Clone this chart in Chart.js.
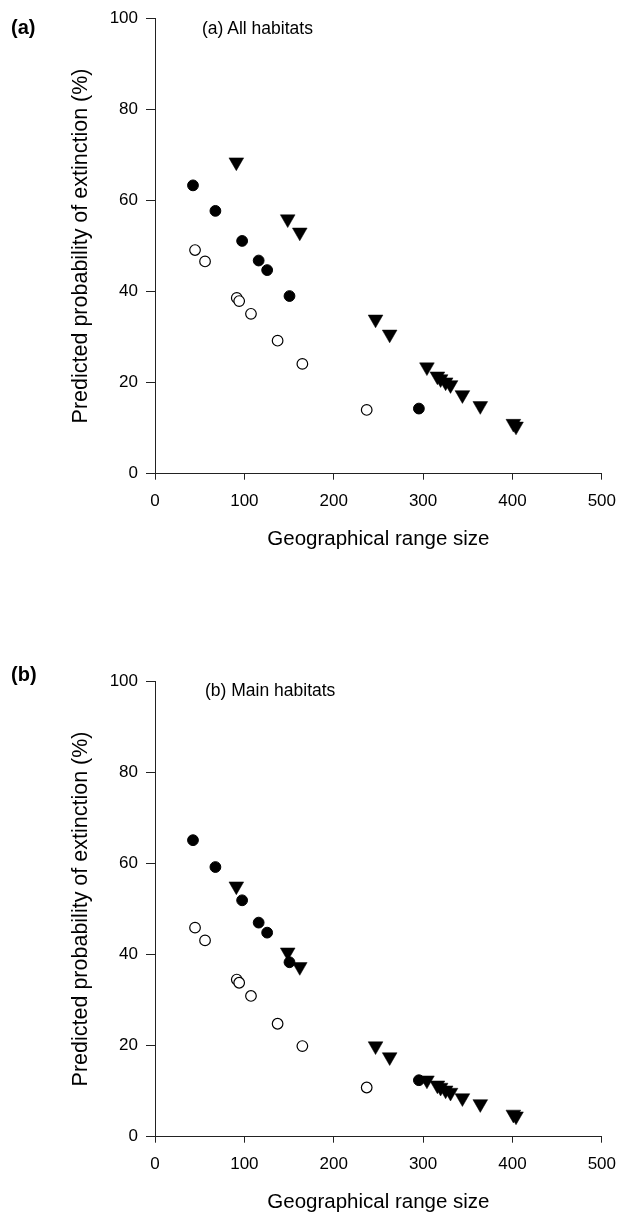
<!DOCTYPE html>
<html>
<head>
<meta charset="utf-8">
<script src="https://cdn.jsdelivr.net/npm/chart.js@4/dist/chart.umd.min.js"></script>
<style>
  html, body { margin: 0; padding: 0; background: #fff; }
  #wrap { position: relative; width: 627px; height: 1217px; background: #fff; font-family: "Liberation Sans", Arial, sans-serif; color: #000; }
  canvas { position: absolute; left: 0; }
  .lbl { position: absolute; white-space: nowrap; line-height: 20px; }
  .panel { font-weight: bold; font-size: 20px; }
  .note { font-size: 17.5px; }
</style>
</head>
<body>
<div id="wrap">
  <canvas id="ca" width="627" height="554" style="top:0px"></canvas>
  <canvas id="cb" width="627" height="554" style="top:663px"></canvas>
  <div class="lbl panel" style="left:11px; top:17px;">(a)</div>
  <div class="lbl note" style="left:202px; top:18px;">(a) All habitats</div>
  <div class="lbl panel" style="left:11px; top:664px;">(b)</div>
  <div class="lbl note" style="left:205px; top:680px;">(b) Main habitats</div>
</div>
<script>
// ---- data ----
const xTicks = [0, 100, 200, 300, 400, 500];
const yTicks = [0, 20, 40, 60, 80, 100];
const xTitle = 'Geographical range size';
const yTitle = 'Predicted probability of extinction (%)';

// open circles
const openX   = [44.8, 56.0, 91.5, 94.2, 107.4, 137.2, 164.9, 236.9];
const openYa  = [49.1, 46.6, 38.6, 37.9, 35.1, 29.2, 24.1, 14.0];
const openYb  = [45.9, 43.1, 34.5, 33.8, 30.9, 24.8, 19.9, 10.8];

// filled circles
const fillX   = [42.5, 67.6, 97.5, 116.0, 125.5, 150.5, 295.3];
const fillYa  = [63.3, 57.7, 51.1, 46.8, 44.7, 39.0, 14.3];
const fillYb  = [65.1, 59.2, 51.9, 47.0, 44.8, 38.3, 12.4];

// filled down-triangles
const triX    = [91.0, 148.5, 162.0, 246.8, 262.6, 304.3, 316.0, 319.6, 325.2, 330.7, 344.0, 364.0, 401.0, 404.0];
const triYa   = [68.4, 55.9, 53.0, 33.9, 30.6, 23.4, 21.4, 20.8, 20.1, 19.5, 17.3, 14.9, 11.0, 10.4];
const triYb   = [55.0, 40.5, 37.3, 19.9, 17.5, 12.4, 11.3, 10.8, 10.2, 9.7, 8.5, 7.2, 4.9, 4.5];

const FONT = '"Liberation Sans", Arial, sans-serif';

function pts(xs, ys) { return xs.map((x, i) => ({ x: x, y: ys[i] })); }

function makeChart(id, openY, fillY, triY) {
  return new Chart(document.getElementById(id), {
    type: 'scatter',
    data: {
      datasets: [
        { label: 'open', data: pts(openX, openY), pointStyle: 'circle', pointRadius: 5.3,
          backgroundColor: '#fff', borderColor: '#000', borderWidth: 1.2 },
        { label: 'filled', data: pts(fillX, fillY), pointStyle: 'circle', pointRadius: 5.4,
          backgroundColor: '#000', borderColor: '#000', borderWidth: 1 },
        { label: 'tri', data: pts(triX, triY), pointStyle: 'triangle', pointRotation: 180, pointRadius: 8.5,
          backgroundColor: '#000', borderColor: '#000', borderWidth: 0.5 }
      ]
    },
    options: {
      responsive: false,
      animation: false,
      events: [],
      layout: { padding: { left: 0, right: 21, top: 15, bottom: 0 } },
      plugins: { legend: { display: false }, tooltip: { enabled: false }, title: { display: false } },
      scales: {
        x: {
          type: 'linear', min: 0, max: 500,
          afterBuildTicks: s => { s.ticks = xTicks.map(v => ({ value: v })); },
          afterFit: s => { s.height = 80.3; },
          border: { display: true, color: '#222', width: 1 },
          grid: { drawOnChartArea: false, drawTicks: true, tickLength: 6, color: '#222', lineWidth: 1 },
          ticks: { color: '#000', padding: 11, maxRotation: 0, font: { family: FONT, size: 17 } },
          title: { display: true, text: xTitle, color: '#000', padding: { top: 0, bottom: 2 },
                   font: { family: FONT, size: 20.5 } }
        },
        y: {
          type: 'linear', min: 0, max: 100,
          afterBuildTicks: s => { s.ticks = yTicks.map(v => ({ value: v })); },
          afterFit: s => { s.width = 155; },
          border: { display: true, color: '#222', width: 1 },
          grid: { drawOnChartArea: false, drawTicks: true, tickLength: 9, color: '#222', lineWidth: 1 },
          ticks: { color: '#000', padding: 8, font: { family: FONT, size: 17 } },
          title: { display: true, text: yTitle, color: '#000', padding: { top: 68, bottom: 0 },
                   font: { family: FONT, size: 21.5 } }
        }
      }
    }
  });
}

makeChart('ca', openYa, fillYa, triYa);
makeChart('cb', openYb, fillYb, triYb);
</script>
</body>
</html>
